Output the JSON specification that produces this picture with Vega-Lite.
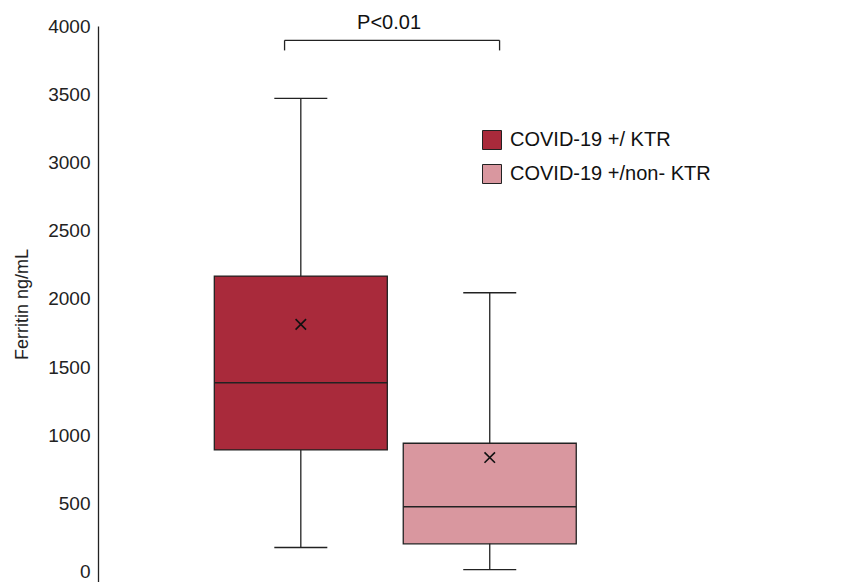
{
  "$schema": "https://vega.github.io/schema/vega-lite/v6.json",
  "autosize": "none",
  "width": 751,
  "height": 556,
  "padding": {"left": 98, "top": 26, "right": 10, "bottom": 0},
  "background": "white",
  "config": {
    "view": {"stroke": null},
    "font": "Liberation Sans",
    "axis": {"labelFont": "Liberation Sans", "titleFont": "Liberation Sans"},
    "legend": {"labelFont": "Liberation Sans"}
  },
  "datasets": {
    "boxes": [
      {"group": "COVID-19 +/ KTR", "pos": 1, "min": 178, "q1": 893, "median": 1386, "q3": 2167, "max": 3470, "mean": 1813},
      {"group": "COVID-19 +/non- KTR", "pos": 2, "min": 15, "q1": 205, "median": 476, "q3": 942, "max": 2045, "mean": 837}
    ],
    "bracket": [
      {"x": 0.914, "x2": 2.052, "y": 3895, "y2": 3895},
      {"x": 0.914, "x2": 0.914, "y": 3821, "y2": 3895},
      {"x": 2.052, "x2": 2.052, "y": 3821, "y2": 3895}
    ],
    "label": [
      {"x": 1.467, "y": 3975, "text": "P<0.01"}
    ]
  },
  "layer": [
    {
      "data": {"name": "boxes"},
      "mark": {"type": "rule", "color": "#222", "strokeWidth": 1.3},
      "encoding": {
        "x": {"field": "pos", "type": "quantitative", "scale": {"domain": [-0.047, 3.875], "nice": false, "zero": false}, "axis": null},
        "y": {"field": "min", "type": "quantitative", "scale": {"domain": [-75, 4000], "nice": false, "zero": false},
          "axis": {"values": [0, 500, 1000, 1500, 2000, 2500, 3000, 3500, 4000], "format": "d", "ticks": false, "grid": false, "domainColor": "#222", "domainWidth": 1.3,
            "labelFontSize": 19, "labelColor": "#222", "labelPadding": 8, "title": "Ferritin ng/mL", "titleFontSize": 18, "titleFontWeight": "normal", "titleColor": "#222", "titlePadding": 16}},
        "y2": {"field": "max"}
      }
    },
    {
      "data": {"name": "boxes"},
      "mark": {"type": "tick", "orient": "horizontal", "color": "#222", "size": 53, "thickness": 1.3, "opacity": 1},
      "encoding": {
        "x": {"field": "pos", "type": "quantitative"},
        "y": {"field": "min", "type": "quantitative"}
      }
    },
    {
      "data": {"name": "boxes"},
      "mark": {"type": "tick", "orient": "horizontal", "color": "#222", "size": 53, "thickness": 1.3, "opacity": 1},
      "encoding": {
        "x": {"field": "pos", "type": "quantitative"},
        "y": {"field": "max", "type": "quantitative"}
      }
    },
    {
      "data": {"name": "boxes"},
      "mark": {"type": "bar", "width": 173, "stroke": "#222", "strokeWidth": 1.3, "opacity": 1},
      "encoding": {
        "x": {"field": "pos", "type": "quantitative"},
        "y": {"field": "q1", "type": "quantitative"},
        "y2": {"field": "q3"},
        "fill": {"field": "group", "type": "nominal",
          "scale": {"domain": ["COVID-19 +/ KTR", "COVID-19 +/non- KTR"], "range": ["#A92A3B", "#D9979F"]},
          "legend": {"title": null, "orient": "none", "legendX": 384, "legendY": 104, "symbolType": "square", "symbolSize": 361,
            "symbolStrokeColor": "#222", "symbolStrokeWidth": 1, "labelFontSize": 20, "labelColor": "#111", "labelOffset": 8, "rowPadding": 10, "labelLimit": 400}}
      }
    },
    {
      "data": {"name": "boxes"},
      "mark": {"type": "tick", "orient": "horizontal", "color": "#222", "size": 173, "thickness": 1.5, "opacity": 1},
      "encoding": {
        "x": {"field": "pos", "type": "quantitative"},
        "y": {"field": "median", "type": "quantitative"}
      }
    },
    {
      "data": {"name": "boxes"},
      "mark": {"type": "point", "shape": "M-1,-1L1,1M-1,1L1,-1", "size": 110, "stroke": "#111", "strokeWidth": 1.6, "filled": false, "opacity": 1},
      "encoding": {
        "x": {"field": "pos", "type": "quantitative"},
        "y": {"field": "mean", "type": "quantitative"}
      }
    },
    {
      "data": {"name": "bracket"},
      "mark": {"type": "rule", "color": "#222", "strokeWidth": 1.3},
      "encoding": {
        "x": {"field": "x", "type": "quantitative"},
        "x2": {"field": "x2"},
        "y": {"field": "y", "type": "quantitative"},
        "y2": {"field": "y2"}
      }
    },
    {
      "data": {"name": "label"},
      "mark": {"type": "text", "fontSize": 20, "color": "#111", "align": "center", "baseline": "alphabetic"},
      "encoding": {
        "x": {"field": "x", "type": "quantitative"},
        "y": {"field": "y", "type": "quantitative"},
        "text": {"field": "text"}
      }
    }
  ]
}
